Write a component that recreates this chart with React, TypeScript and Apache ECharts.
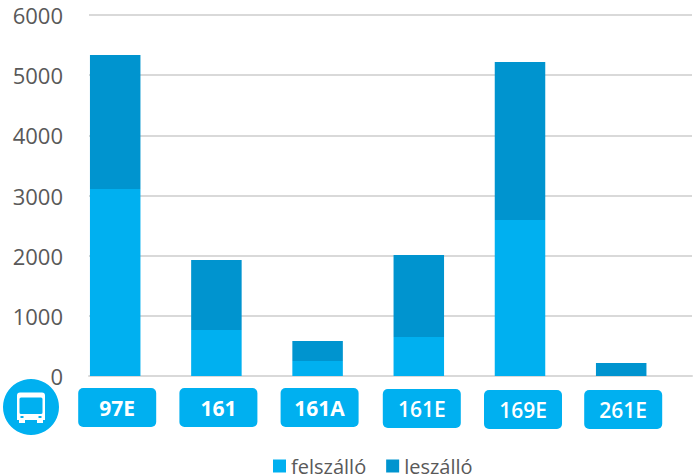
import React, { useEffect, useRef } from "react";
import * as echarts from "echarts";

const categories = ["97E", "161", "161A", "161E", "169E", "261E"];
const felszallo = [3108, 765, 250, 648, 2593, 0];
const leszallo = [2227, 1163, 332, 1363, 2626, 216];
const labelWeights = [700, 700, 700, 600, 600, 600];
const labelShiftX = [2, 2, 2, 3, 3, 2];
const labelShiftY = [0, 0, 0, 1, 2, 2];
const FONT = '"Open Sans", sans-serif';
const BLUE = "#00B0F0";
const DARK = "#0094CF";

const BUS_D =
  "M20 392.500H42Q45 392.500 45 395.500V420H43V423H37V420H25V423H19V420H17V395.500Q17 392.500 20 392.500Z" +
  "M21 397.500Q19.500 397.500 19.500 399V412.500Q19.500 414 21 414H41Q42.500 414 42.500 412.500V399Q42.500 397.500 41 397.500Z" +
  "M20.500 416V418H23.500V416Z" +
  "M38.500 416V418H41.500V416Z";

echarts.graphic.registerShape("busIcon", echarts.graphic.extendPath(BUS_D, {}) as any);

export default function App() {
  const ref = useRef<HTMLDivElement>(null);
  useEffect(() => {
    const chart = echarts.init(ref.current!, undefined, { renderer: "svg" });
    const rich: any = {};
    categories.forEach((_, i) => {
      rich["b" + i] = {
        backgroundColor: BLUE,
        borderRadius: 5,
        width: 78,
        height: 39,
        lineHeight: 39,
        align: "center",
        color: "#fff",
        fontSize: 21,
        fontWeight: labelWeights[i],
        fontFamily: FONT,
      };
    });
    chart.setOption({
      animation: false,
      grid: [
        { left: 89, top: 15, width: 603, height: 361 },
        { left: 64.6, top: 15, width: 607.2, height: 361 },
      ],
      legend: {
        left: 268,
        top: 451,
        itemWidth: 13,
        itemHeight: 13,
        itemGap: 20,
        icon: "rect",
        data: ["felszálló", "leszálló"],
        textStyle: { color: "#595959", fontSize: 20, lineHeight: 20, fontFamily: FONT },
      },
      xAxis: [
        {
          type: "value",
          gridIndex: 0,
          min: 0,
          max: 1,
          axisLine: { show: true, onZero: false, lineStyle: { color: "#D9D9D9", width: 2 } },
          axisTick: { show: false },
          axisLabel: { show: false },
          splitLine: { show: false },
        },
        {
          type: "category",
          gridIndex: 1,
          data: categories.map((value, i) => ({
            value,
            textStyle: { padding: [labelShiftY[i], 0, 0, labelShiftX[i] * 2] },
          })),
          axisLine: { show: false },
          axisTick: { show: false },
          axisLabel: {
            interval: 0,
            margin: 12,
            formatter: (v: string) => `{b${categories.indexOf(v)}|${v}}`,
            rich,
          },
        },
      ],
      yAxis: [
        {
          type: "value",
          gridIndex: 0,
          min: 0,
          max: 6000,
          interval: 1000,
          axisLine: { show: false },
          axisTick: { show: false },
          axisLabel: {
            color: "#595959",
            fontSize: 22,
            fontFamily: FONT,
            margin: 26,
            formatter: (v: number) => String(v),
          },
          splitLine: { lineStyle: { color: "#D9D9D9", width: 2 } },
        },
        {
          type: "value",
          gridIndex: 1,
          min: 0,
          max: 6000,
          show: false,
        },
      ],
      series: [
        {
          name: "felszálló",
          type: "bar",
          stack: "t",
          xAxisIndex: 1,
          yAxisIndex: 1,
          barWidth: 50.5,
          z: 5,
          itemStyle: { color: BLUE },
          data: felszallo,
        },
        {
          name: "leszálló",
          type: "bar",
          stack: "t",
          xAxisIndex: 1,
          yAxisIndex: 1,
          barWidth: 50.5,
          z: 5,
          itemStyle: { color: DARK },
          data: leszallo,
        },
      ],
      graphic: [
        { type: "circle", shape: { cx: 31, cy: 407, r: 28 }, style: { fill: BLUE } },
        { type: "busIcon", style: { fill: "#fff" } },
      ],
    });
    return () => chart.dispose();
  }, []);
  return (
    <div
      ref={ref}
      style={{ position: "fixed", left: 0, top: 0, width: 693, height: 475, background: "#fff" }}
    />
  );
}
